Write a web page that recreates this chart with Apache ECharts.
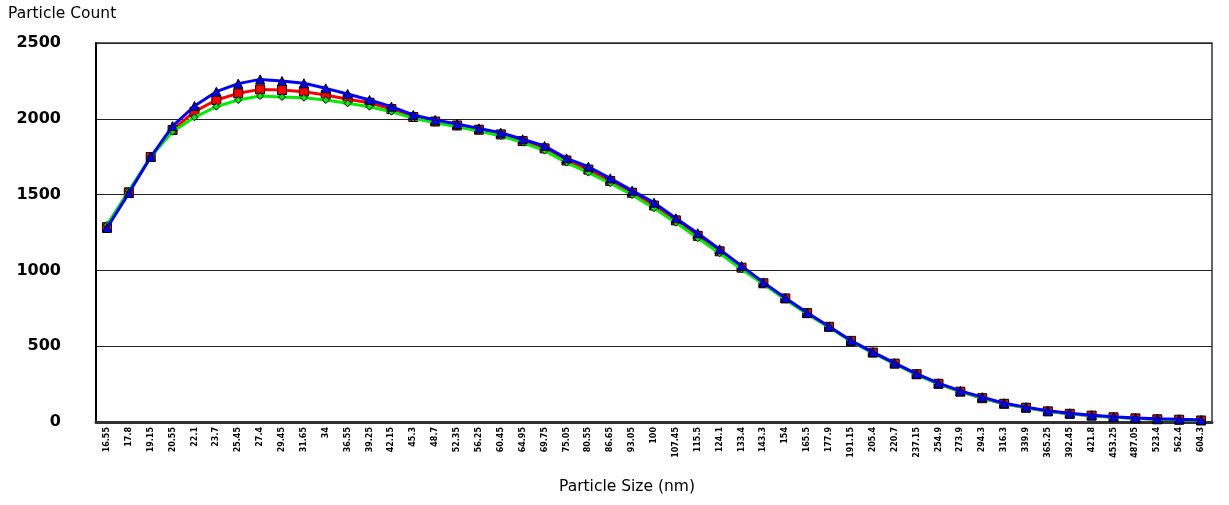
<!DOCTYPE html>
<html><head><meta charset="utf-8">
<script src="https://cdn.jsdelivr.net/npm/echarts@6/dist/echarts.min.js"></script>
<style>html,body{margin:0;padding:0;background:#fff}#c{width:1229px;height:505px}</style>
</head><body><div id="c"></div>
<script>
const categories = ["16.55","17.8","19.15","20.55","22.1","23.7","25.45","27.4","29.45","31.65","34","36.55","39.25","42.15","45.3","48.7","52.35","56.25","60.45","64.95","69.75","75.05","80.55","86.65","93.05","100","107.45","115.5","124.1","133.4","143.3","154","165.5","177.9","191.15","205.4","220.7","237.15","254.9","273.9","294.3","316.3","339.9","365.25","392.45","421.8","453.25","487.05","523.4","562.4","604.3"];
const blueSeries = [1280,1510,1748,1952,2084,2179,2232,2260,2249,2234,2201,2164,2124,2080,2025,1992,1966,1937,1908,1865,1821,1739,1684,1607,1526,1447,1344,1245,1139,1029,921,818,720,630,537,461,388,318,256,205,164,124,98,74,58,45,34,27,21,18,13];
const redSeries = [1285,1515,1748,1926,2047,2124,2168,2194,2190,2179,2157,2129,2106,2064,2012,1982,1956,1928,1897,1853,1805,1725,1665,1590,1512,1428,1330,1228,1126,1018,915,815,718,628,535,458,385,315,252,200,157,120,94,70,54,42,31,24,18,15,10];
const greenSeries = [1300,1525,1750,1915,2010,2080,2124,2150,2144,2139,2124,2102,2080,2047,2003,1974,1948,1920,1887,1843,1790,1711,1645,1575,1497,1410,1315,1212,1113,1007,910,808,712,624,532,456,383,313,250,200,158,120,94,70,54,42,31,24,18,15,10];
const yTicks = {min: 0, max: 2500, interval: 500};

const font = 'DejaVu Sans';
const chart = echarts.init(document.getElementById('c'), null, {renderer: 'canvas'});
function mk(name, data, color, symbol, size, z) {
  return {
    name, type: 'line', data, z, animation: false,
    symbol, symbolSize: size,
    lineStyle: {color, width: 3},
    itemStyle: {color, borderColor: '#000', borderWidth: 1},
    emphasis: {disabled: true}
  };
}
chart.setOption({
  animation: false,
  grid: {left: 96, right: 17, top: 43, bottom: 83, show: true, borderColor: '#333', borderWidth: 1.5},
  graphic: [
    {type: 'text', left: 8, top: 6, style: {text: 'Particle Count', font: '15.5px "DejaVu Sans"', fill: '#000'}},
    {type: 'text', x: 627, y: 487, style: {text: 'Particle Size (nm)', font: '15.5px "DejaVu Sans"', fill: '#000', align: 'center', verticalAlign: 'middle'}}
  ],
  xAxis: {
    type: 'category', data: categories, boundaryGap: true,
    axisLine: {lineStyle: {color: '#333', width: 3}},
    axisTick: {show: false},
    axisLabel: {rotate: 90, interval: 0, fontFamily: font, fontSize: 8, fontWeight: 'bold', color: '#000', margin: 5},
    splitLine: {show: false}
  },
  yAxis: {
    type: 'value', min: yTicks.min, max: yTicks.max, interval: yTicks.interval,
    axisLine: {show: true, lineStyle: {color: '#000', width: 2}},
    axisTick: {show: false},
    axisLabel: {fontFamily: font, fontSize: 16, fontWeight: 'bold', color: '#000', margin: 35, formatter: v => String(v)},
    splitLine: {lineStyle: {color: '#222', width: 1}}
  },
  series: [
    mk('Red', redSeries, '#ff0000', 'rect', 9, 2),
    mk('Green', greenSeries, '#00ee00', 'diamond', 7, 3),
    mk('Blue', blueSeries, '#0000ff', 'triangle', 9, 4)
  ]
});
</script></body></html>
